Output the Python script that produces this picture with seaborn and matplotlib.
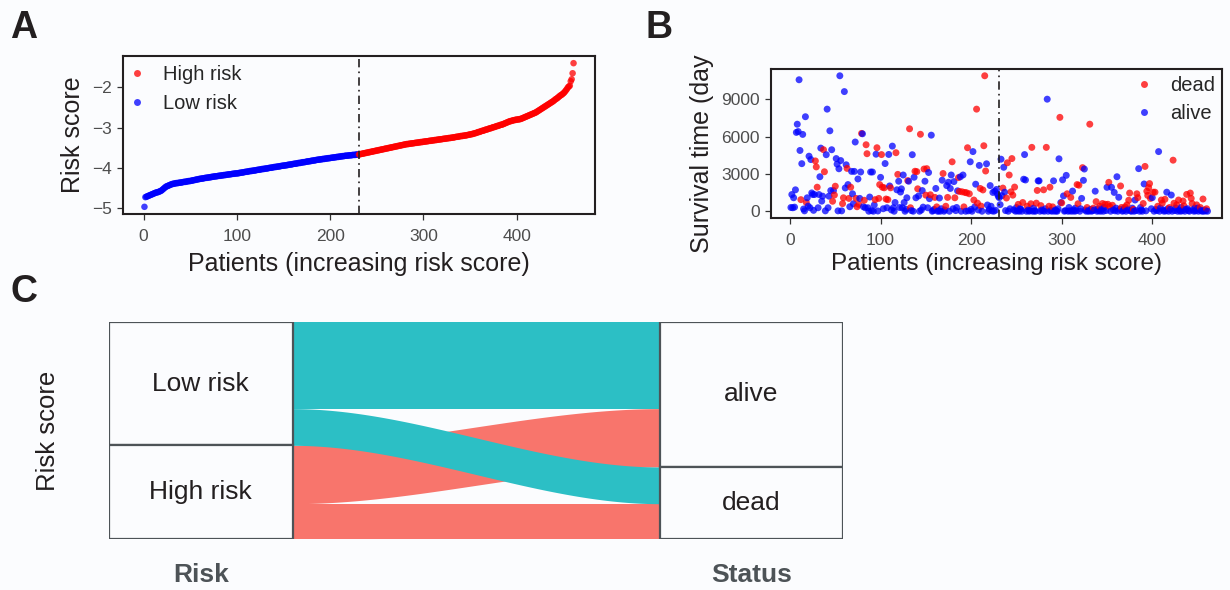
import numpy as np
import pandas as pd
import matplotlib.pyplot as plt
import seaborn as sns
from matplotlib.lines import Line2D
from matplotlib.patches import Rectangle
from matplotlib.transforms import Bbox, TransformedBbox

# ---- panel A: sorted risk score of every patient ----
risk_score = [
    -4.97,
    -4.73, -4.72, -4.71, -4.70, -4.69, -4.68, -4.67, -4.66, -4.65,
    -4.64, -4.63, -4.62, -4.61, -4.61, -4.60, -4.59, -4.58, -4.57, -4.55,
    -4.53, -4.51, -4.49, -4.47, -4.46, -4.45, -4.44, -4.43, -4.42, -4.41,
    -4.40, -4.40, -4.39, -4.39, -4.38, -4.38, -4.38, -4.37, -4.37, -4.37,
    -4.36, -4.36, -4.35, -4.35, -4.35, -4.34, -4.34, -4.33, -4.33, -4.33,
    -4.32, -4.32, -4.31, -4.31, -4.30, -4.30, -4.29, -4.29, -4.28, -4.28,
    -4.27, -4.27, -4.27, -4.26, -4.26, -4.25, -4.25, -4.25, -4.24, -4.24,
    -4.24, -4.23, -4.23, -4.22, -4.22, -4.22, -4.21, -4.21, -4.21, -4.20,
    -4.20, -4.20, -4.19, -4.19, -4.19, -4.18, -4.18, -4.18, -4.17, -4.17,
    -4.17, -4.16, -4.16, -4.16, -4.15, -4.15, -4.15, -4.14, -4.14, -4.14,
    -4.14, -4.13, -4.13, -4.12, -4.12, -4.12, -4.11, -4.11, -4.10, -4.10,
    -4.10, -4.09, -4.09, -4.08, -4.08, -4.08, -4.07, -4.07, -4.07, -4.06,
    -4.06, -4.05, -4.05, -4.05, -4.04, -4.04, -4.03, -4.03, -4.03, -4.02,
    -4.02, -4.02, -4.01, -4.01, -4.00, -4.00, -4.00, -3.99, -3.99, -3.98,
    -3.98, -3.98, -3.97, -3.97, -3.97, -3.96, -3.96, -3.95, -3.95, -3.95,
    -3.94, -3.94, -3.94, -3.93, -3.93, -3.92, -3.92, -3.92, -3.91, -3.91,
    -3.90, -3.90, -3.90, -3.89, -3.89, -3.88, -3.88, -3.88, -3.87, -3.87,
    -3.86, -3.86, -3.86, -3.85, -3.85, -3.84, -3.84, -3.84, -3.83, -3.83,
    -3.82, -3.82, -3.82, -3.81, -3.81, -3.80, -3.80, -3.80, -3.79, -3.79,
    -3.79, -3.78, -3.78, -3.78, -3.77, -3.77, -3.77, -3.76, -3.76, -3.76,
    -3.75, -3.75, -3.75, -3.74, -3.74, -3.74, -3.73, -3.73, -3.73, -3.72,
    -3.72, -3.72, -3.71, -3.71, -3.71, -3.70, -3.70, -3.70, -3.70, -3.69,
    -3.69, -3.69, -3.69, -3.68, -3.68, -3.68, -3.68, -3.67, -3.67, -3.67,
    -3.67, -3.66, -3.66, -3.65, -3.65, -3.64, -3.64, -3.63, -3.63, -3.62,
    -3.62, -3.61, -3.61, -3.60, -3.60, -3.59, -3.59, -3.58, -3.58, -3.57,
    -3.57, -3.56, -3.56, -3.55, -3.55, -3.54, -3.54, -3.53, -3.53, -3.52,
    -3.52, -3.51, -3.51, -3.50, -3.50, -3.49, -3.49, -3.48, -3.48, -3.47,
    -3.47, -3.46, -3.46, -3.45, -3.45, -3.44, -3.44, -3.43, -3.43, -3.42,
    -3.42, -3.41, -3.41, -3.41, -3.40, -3.40, -3.40, -3.39, -3.39, -3.39,
    -3.38, -3.38, -3.38, -3.37, -3.37, -3.37, -3.36, -3.36, -3.36, -3.35,
    -3.35, -3.35, -3.34, -3.34, -3.34, -3.33, -3.33, -3.33, -3.32, -3.32,
    -3.32, -3.31, -3.31, -3.31, -3.30, -3.30, -3.30, -3.29, -3.29, -3.29,
    -3.28, -3.28, -3.28, -3.27, -3.27, -3.27, -3.26, -3.26, -3.26, -3.25,
    -3.25, -3.25, -3.24, -3.24, -3.23, -3.23, -3.23, -3.22, -3.22, -3.21,
    -3.21, -3.21, -3.20, -3.20, -3.20, -3.19, -3.19, -3.18, -3.18, -3.17,
    -3.17, -3.16, -3.16, -3.15, -3.14, -3.14, -3.13, -3.12, -3.11, -3.11,
    -3.10, -3.09, -3.08, -3.08, -3.07, -3.06, -3.05, -3.05, -3.04, -3.03,
    -3.02, -3.02, -3.01, -3.00, -2.99, -2.99, -2.98, -2.97, -2.96, -2.96,
    -2.95, -2.94, -2.93, -2.93, -2.92, -2.91, -2.90, -2.89, -2.88, -2.87,
    -2.86, -2.85, -2.84, -2.84, -2.83, -2.82, -2.82, -2.81, -2.81, -2.80,
    -2.80, -2.80, -2.79, -2.79, -2.78, -2.77, -2.76, -2.75, -2.74, -2.73,
    -2.72, -2.71, -2.70, -2.69, -2.68, -2.67, -2.66, -2.65, -2.64, -2.63,
    -2.62, -2.60, -2.59, -2.57, -2.56, -2.54, -2.53, -2.51, -2.50, -2.48,
    -2.47, -2.45, -2.44, -2.42, -2.41, -2.39, -2.38, -2.36, -2.35, -2.33,
    -2.31, -2.29, -2.28, -2.26, -2.24, -2.22, -2.20, -2.19, -2.17, -2.15,
    -2.13, -2.10, -2.07, -2.04, -2.00,
    -1.98, -1.96, -1.85, -1.80, -1.65, -1.40,
]
n_low = 230  # first 230 patients are "Low risk"

# ---- panel B: survival time (days) and status (1 = dead) ----
survival_time = [
    300, 1340, 280, 1080, 330, 1720, 6330, 6990, 6400, 10560,
    4880, 930, 3820, 6170, 180, 30, 7590, 700, 1080, 410,
    4420, 280, 4150, 1470, 1340, 70, 1340, 4040, 3560, 1930,
    280, 1340, 2770, 5070, 810, 1210, 4940, 3170, 30, 4540,
    8200, 280, 1210, 6460, 1660, 4940, 800, 1660, 1300, 2010,
    4230, 3780, 30, 3410, 10880, 4070, 30, 610, 1080, 9610,
    1870, 3730, 3440, 2140, 1030, 360, 1930, 3200, 1400, 600,
    3200, 5560, 1030, 360, 2590, 550, 1030, 3150, 6250, 6220,
    360, 880, 280, 5340, 4620, 280, 0, 1140, 3150, 50,
    3150, 0, 500, 930, 4580, 5100, 20, 1030, 2140, 2720,
    4550, 1930, 200, 1880, 3830, 980, 280, 930, 4560, 2030,
    1880, 100, 5230, 280, 0, 700, 4700, 1720, 2960, 2410,
    300, 1540, 1800, 280, 2910, 700, 0, 150, 1080, 2460,
    2410, 6620, 280, 50, 4540, 0, 2730, 3210, 1080, 3180,
    1800, 1230, 0, 6180, 100, 1660, 330, 3390, 2410, 1290,
    3420, 280, 3110, 1010, 1320, 6110, 0, 50, 150, 1110,
    1830, 350, 0, 30, 1060, 0, 200, 2490, 3030, 0,
    100, 400, 2060, 1110, 2330, 0, 1830, 2910, 3970, 200,
    2380, 1080, 50, 300, 1640, 2700, 1590, 2760, 0, 1560,
    2910, 350, 1510, 0, 1480, 5100, 30, 1400, 3970, 150,
    0, 4790, 900, 350, 2170, 8200, 650, 100, 3680, 1830,
    410, 0, 1710, 5260, 10880, 3230, 3810, 500, 0, 150,
    2060, 400, 30, 1510, 0, 1620, 80, 1750, 1380, 1200,
    1090, 530, 4180, 1250, 1860, 3530, 1530, 50, 1060, 3890,
    0, 2910, 200, 1560, 4230, 1290, 100, 1940, 0, 300,
    30, 550, 0, 200, 150, 0, 700, 2570, 4550, 2510,
    0, 400, 100, 0, 50, 600, 5130, 0, 250, 30,
    0, 650, 1670, 2440, 2440, 0, 450, 100, 30, 1720,
    0, 200, 5130, 9000, 0, 400, 1930, 50, 0, 350,
    2440, 0, 100, 30, 0, 200, 4210, 7540, 700, 670,
    2520, 1230, 0, 50, 2880, 1400, 0, 300, 30, 1110,
    0, 1620, 100, 0, 250, 30, 2140, 600, 2090, 0,
    200, 1030, 3500, 2480, 3390, 100, 0, 300, 30, 0,
    6990, 150, 0, 50, 250, 100, 1610, 770, 0, 200,
    30, 400, 0, 150, 620, 0, 300, 560, 50, 1920,
    560, 2320, 380, 0, 1920, 480, 100, 1510, 30, 250,
    2770, 0, 1120, 150, 2030, 300, 0, 50, 200, 350,
    0, 510, 100, 880, 1460, 30, 0, 250, 150, 0,
    900, 50, 1400, 1090, 3420, 0, 300, 100, 0, 620,
    2190, 3600, 30, 1610, 1270, 1900, 2220, 1030, 200, 1090,
    1530, 0, 1530, 150, 50, 400, 4790, 0, 250, 900,
    640, 100, 0, 960, 30, 1530, 200, 0, 300, 150,
    1300, 0, 4100, 640, 50, 250, 510, 0, 900, 100,
    0, 300, 30, 820, 430, 0, 150, 1350, 200, 50,
    0, 1460, 1030, 620, 100, 0, 250, 30, 510, 250,
    0, 150, 300, 50, 0, 980, 0, 100, 30, 200, 0,
]
dead = [
    0, 0, 0, 0, 0, 0, 0, 0, 0, 0,
    0, 1, 0, 0, 0, 0, 0, 1, 0, 0,
    0, 0, 0, 0, 0, 0, 0, 1, 1, 1,
    0, 0, 0, 0, 0, 0, 1, 1, 0, 0,
    0, 0, 0, 0, 0, 0, 1, 0, 1, 1,
    0, 0, 0, 0, 0, 0, 0, 1, 1, 0,
    0, 0, 1, 0, 1, 0, 1, 0, 0, 0,
    0, 0, 1, 1, 0, 1, 0, 0, 1, 0,
    0, 1, 0, 1, 1, 0, 0, 0, 0, 0,
    0, 0, 0, 1, 0, 1, 0, 1, 1, 0,
    1, 1, 0, 1, 0, 1, 0, 1, 0, 0,
    1, 0, 0, 0, 0, 0, 1, 0, 1, 0,
    0, 0, 0, 0, 0, 0, 0, 0, 0, 1,
    0, 1, 1, 0, 0, 0, 0, 1, 0, 1,
    1, 0, 0, 1, 0, 0, 0, 1, 0, 1,
    1, 0, 0, 0, 1, 0, 0, 0, 0, 1,
    0, 1, 0, 0, 0, 0, 0, 0, 1, 0,
    0, 1, 0, 1, 0, 0, 0, 0, 1, 0,
    0, 1, 0, 0, 0, 1, 1, 0, 0, 1,
    0, 1, 1, 0, 1, 1, 0, 1, 0, 0,
    0, 0, 1, 0, 0, 1, 1, 0, 0, 1,
    1, 0, 1, 1, 1, 1, 0, 0, 0, 0,
    0, 0, 0, 0, 0, 0, 0, 0, 0, 0,
    0, 0, 0, 0, 1, 0, 0, 0, 1, 1,
    0, 1, 0, 1, 1, 1, 0, 1, 0, 0,
    0, 1, 0, 0, 0, 0, 1, 0, 0, 0,
    0, 1, 0, 0, 0, 1, 1, 0, 0, 0,
    0, 1, 1, 0, 0, 0, 1, 0, 0, 1,
    0, 0, 1, 0, 0, 1, 1, 0, 0, 1,
    0, 0, 0, 0, 0, 0, 0, 1, 0, 1,
    0, 0, 0, 0, 0, 1, 0, 0, 0, 1,
    0, 0, 0, 0, 0, 0, 1, 1, 1, 0,
    0, 0, 1, 0, 0, 0, 0, 1, 0, 0,
    1, 0, 0, 0, 1, 0, 0, 1, 0, 0,
    0, 1, 0, 0, 1, 0, 0, 1, 0, 0,
    1, 1, 1, 0, 0, 1, 0, 0, 0, 0,
    0, 0, 0, 0, 1, 1, 0, 0, 0, 1,
    0, 1, 0, 1, 1, 0, 0, 0, 1, 0,
    0, 0, 1, 1, 0, 0, 0, 0, 0, 1,
    0, 1, 0, 1, 1, 1, 1, 1, 0, 0,
    1, 0, 1, 0, 0, 1, 0, 0, 0, 1,
    1, 0, 0, 1, 0, 0, 0, 0, 1, 0,
    0, 0, 1, 1, 0, 0, 1, 0, 1, 0,
    0, 0, 0, 1, 1, 0, 0, 1, 0, 0,
    0, 1, 1, 1, 0, 0, 0, 0, 1, 0,
    0, 0, 1, 0, 0, 1, 0, 0, 0, 1, 0,
]

# ---- panel C: alluvial counts risk group -> status ----
flow_risk = ["Low risk", "Low risk", "High risk", "High risk"]
flow_status = ["alive", "dead", "alive", "dead"]
flow_n = [184, 78, 124, 75]
risk_levels = ["Low risk", "High risk"]   # top to bottom
status_levels = ["alive", "dead"]

bg = "#fbfcfe"
ink = "#231f20"
tick_grey = "#4d4d4d"

sns.set_theme(style="white")
plt.rcParams["font.family"] = ["Liberation Sans", "DejaVu Sans"]
plt.rcParams["axes.unicode_minus"] = True

fig = plt.figure(figsize=(12.3, 5.9), dpi=100, facecolor=bg)


def px_axes(l, t, r, b):
    return fig.add_axes([l / 1230, 1 - b / 590, (r - l) / 1230, (b - t) / 590])


def style_axes(ax):
    ax.set_facecolor(bg)
    for sp in ax.spines.values():
        sp.set_color(ink)
        sp.set_linewidth(1.5)
    ax.tick_params(bottom=True, left=True, length=4, width=0.9, color="#333333",
                   labelsize=12.5, labelcolor=tick_grey, pad=4)
    ax.tick_params(axis="x", pad=6.5)


def dot(c):
    return Line2D([], [], ls="none", marker="o", ms=5, mfc=c, mec="none", alpha=0.75)


red, blue = "#ff0000", "#0000ff"
patients = np.arange(1, len(risk_score) + 1)

# A
dfA = pd.DataFrame({"patient": patients, "risk": risk_score,
                    "group": ["Low risk" if i < n_low else "High risk" for i in range(len(risk_score))]})
axA = px_axes(123, 56, 595, 214)
sns.scatterplot(data=dfA, x="patient", y="risk", hue="group",
                palette={"High risk": red, "Low risk": blue}, s=22, linewidth=0,
                alpha=0.75, legend=False, ax=axA)
axA.axvline(n_low + 1, color=ink, lw=1.2, dashes=(5, 2.5, 1, 2.5))
style_axes(axA)
axA.set_xticks([0, 100, 200, 300, 400])
axA.set_yticks([-5, -4, -3, -2])
axA.set_xlabel("Patients (increasing risk score)", fontsize=18, color=ink, labelpad=6)
axA.set_ylabel("Risk score", fontsize=18, color=ink, labelpad=5)
axA.legend([dot(red), dot(blue)], ["High risk", "Low risk"], loc="upper left",
           frameon=False, fontsize=14.5, handlelength=0.5, handletextpad=1.05,
           labelspacing=0.5, borderaxespad=0.1, borderpad=0.35)

# B
dfB = pd.DataFrame({"patient": patients, "time": survival_time,
                    "status": ["dead" if d else "alive" for d in dead]})
axB = px_axes(771, 69, 1222, 218)
sns.scatterplot(data=dfB, x="patient", y="time", hue="status",
                palette={"dead": red, "alive": blue}, s=25, linewidth=0,
                alpha=0.75, legend=False, ax=axB)
axB.axvline(n_low + 1, color=ink, lw=1.2, dashes=(5, 2.5, 1, 2.5))
style_axes(axB)
axB.set_xlim(-21, 477)
axB.set_xticks([0, 100, 200, 300, 400])
axB.set_yticks([0, 3000, 6000, 9000])
axB.set_xlabel("Patients (increasing risk score)", fontsize=17.5, color=ink, labelpad=4)
axB.set_ylabel("Survival time (days)", fontsize=18, color=ink, labelpad=5)
axB.yaxis.label.set_clip_box(TransformedBbox(Bbox.from_extents(0, 0, 1, 1 - 55 / 590), fig.transFigure))
axB.legend([dot(red), dot(blue)], ["dead", "alive"], loc="upper right",
           frameon=False, fontsize=14.5, handlelength=0.5, handletextpad=1.05,
           labelspacing=0.45, borderaxespad=0.15, borderpad=0.2)

# C: alluvial
flows = pd.DataFrame({"risk": flow_risk, "status": flow_status, "n": flow_n})
flows["ri"] = flows["risk"].map(risk_levels.index)
flows["si"] = flows["status"].map(status_levels.index)
total = flows["n"].sum()
flows = flows.sort_values(["ri", "si"])
flows["left_top"] = total - flows["n"].cumsum() + flows["n"]
flows = flows.sort_values(["si", "ri"])
flows["right_top"] = total - flows["n"].cumsum() + flows["n"]

w = 1 / 3
axC = px_axes(109, 322, 843, 539)
axC.set_facecolor(bg)
flow_colors = {"Low risk": "#2cbfc5", "High risk": "#f8756c"}
xs = np.linspace(1 + w / 2, 2 - w / 2, 300)
t = (xs - xs[0]) / (xs[-1] - xs[0])
ease = t * t * (3 - 2 * t)
for _, f in flows.sort_values("ri", ascending=False).iterrows():
    top = f["left_top"] + (f["right_top"] - f["left_top"]) * ease
    axC.fill_between(xs, top - f["n"], top, color=flow_colors[f["risk"]], lw=0)

for xpos, col, levels in [(1, "risk", risk_levels), (2, "status", status_levels)]:
    sizes = flows.groupby(col)["n"].sum()
    y = total
    for lev in levels:
        h = sizes[lev]
        axC.add_patch(Rectangle((xpos - w / 2, y - h), w, h, facecolor=bg,
                                edgecolor="#4d5357", lw=1.6, zorder=3))
        axC.text(xpos, y - h / 2, lev, ha="center", va="center", fontsize=19,
                 color=ink, zorder=4)
        y -= h

axC.set_xlim(1 - w / 2, 2 + w / 2)
axC.set_ylim(0, total)
for sp in axC.spines.values():
    sp.set_visible(False)
axC.set_xticks([1, 2])
axC.set_xticklabels(["Risk", "Status"], fontsize=19, fontweight="bold", color="#4d5357")
axC.set_yticks([])
axC.tick_params(axis="x", length=0, pad=17)
axC.set_ylabel("Risk score", fontsize=18.5, color=ink, labelpad=35)

for x, y, lab in [(10, 38, "A"), (646, 38, "B"), (10, 302, "C")]:
    fig.text(x / 1230, 1 - y / 590, lab, fontsize=27, fontweight="bold", color=ink, va="baseline")

fig.savefig("out.png", dpi=100, facecolor=bg)
